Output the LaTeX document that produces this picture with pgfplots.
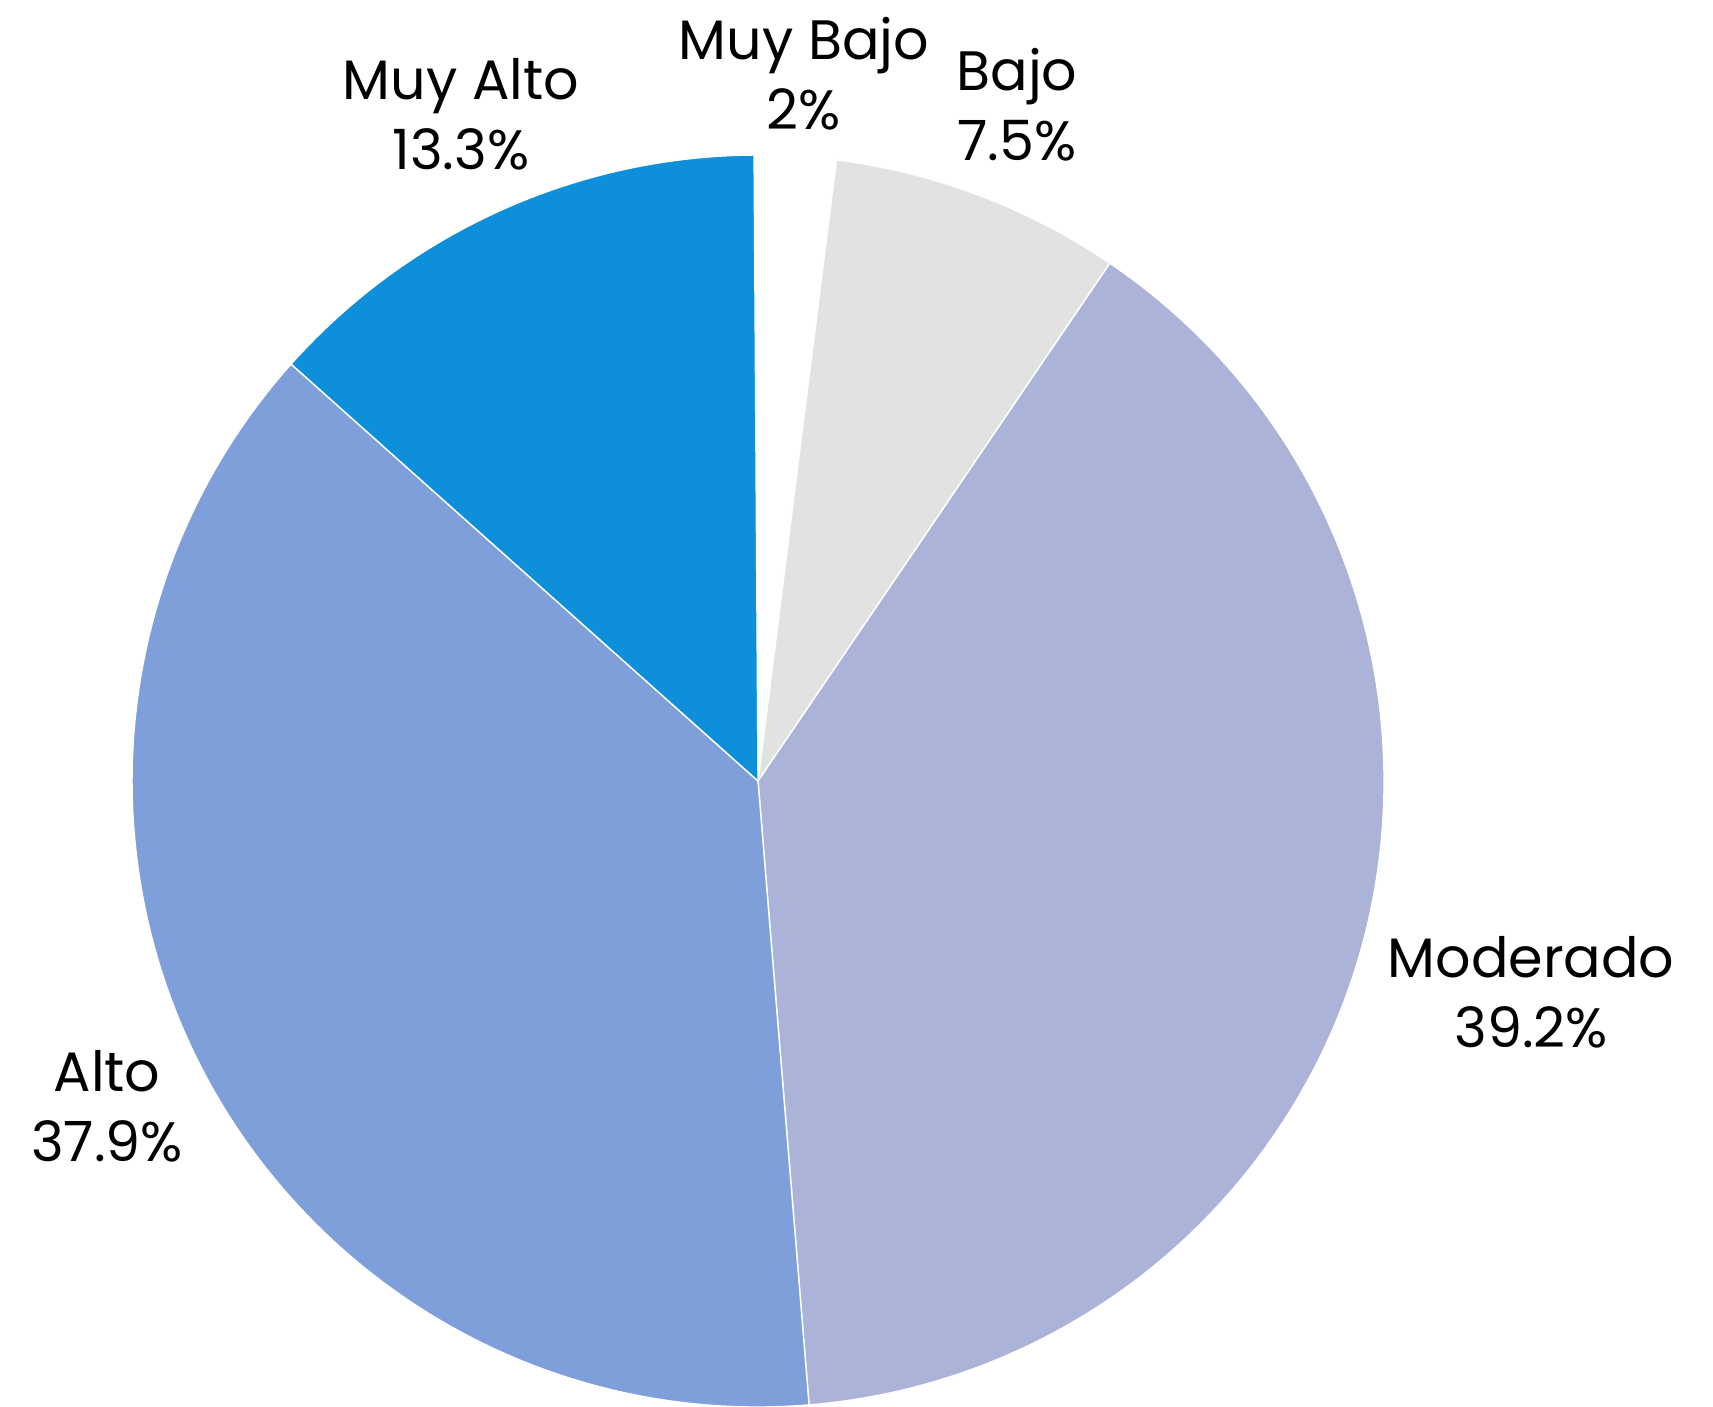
\documentclass[border=0pt]{standalone}
\usepackage{fontspec}
\setmainfont{Poppins}
\usepackage{pgfplots}
\pgfplotsset{compat=1.18}
\definecolor{cMB}{HTML}{FFFFFF}
\definecolor{cB}{HTML}{E2E2E2}
\definecolor{cMo}{HTML}{ABB3D8}
\definecolor{cA}{HTML}{7F9FDB}
\definecolor{cMA}{HTML}{0D90D9}
% #1 cumulative percent before slice, #2 slice percent, #3 colour
\newcommand{\slice}[3]{%
  \fill[#3, draw=white, line width=0.4pt] (axis cs:7.58,6.25) -- ++({90-3.6*(#1)}:6.26cm)
    arc[start angle={90-3.6*(#1)}, end angle={90-3.6*((#1)+(#2))}, radius=6.26cm] -- cycle;}
\begin{document}
\begin{tikzpicture}
\begin{axis}[x=1cm, y=1cm, xmin=0, xmax=17.13, ymin=0, ymax=14.06,
  hide axis, clip=false, scale only axis]
\coordinate (bl) at (axis cs:0,0);
\coordinate (tr) at (axis cs:17.13,14.06);
\slice{0}{2}{cMB}
\slice{2}{7.5}{cB}
\slice{9.5}{39.2}{cMo}
\slice{48.7}{37.9}{cA}
\slice{86.6}{13.3}{cMA}
\tikzset{lab/.style={align=center, font=\fontsize{15.8}{20}\selectfont, inner sep=0pt}}
\node[lab] at (axis cs:8.04,13.32) {Muy Bajo\\2\%};
\node[lab] at (axis cs:10.17,13.01) {Bajo\\7.5\%};
\node[lab] at (axis cs:15.31,4.14) {Moderado\\39.2\%};
\node[lab] at (axis cs:1.07,3.00) {Alto\\37.9\%};
\node[lab] at (axis cs:4.61,12.92) {Muy Alto\\13.3\%};
\end{axis}
\pgfresetboundingbox
\path[use as bounding box] (bl) rectangle (tr);
\end{tikzpicture}
\end{document}
